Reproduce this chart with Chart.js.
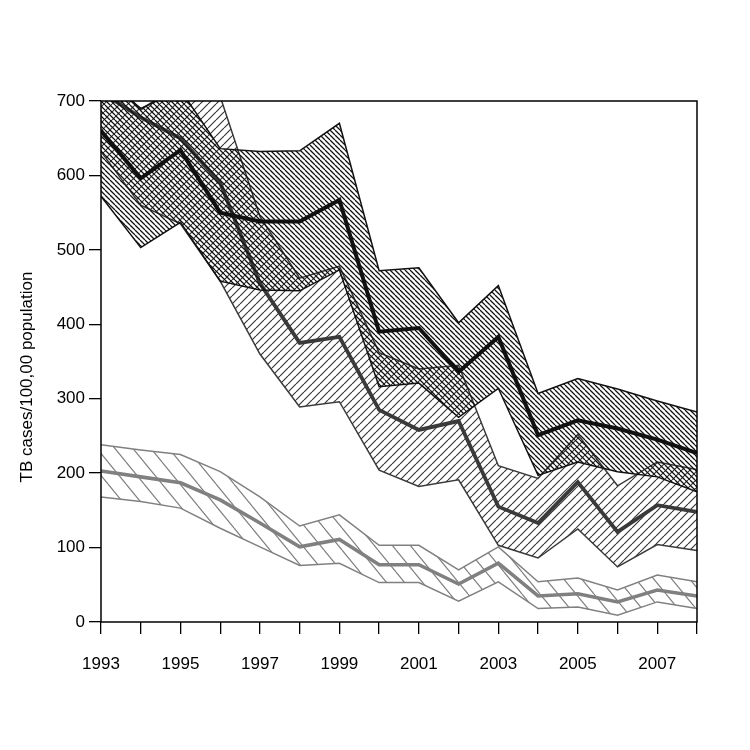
<!DOCTYPE html>
<html>
<head>
<meta charset="utf-8">
<script src="https://cdn.jsdelivr.net/npm/chart.js@4/dist/chart.umd.min.js"></script>
<style>
html,body{margin:0;padding:0;background:#fff;}
canvas{display:block;}
</style>
</head>
<body>
<canvas id="c" width="750" height="750"></canvas>
<script>
const years = [1993,1994,1995,1996,1997,1998,1999,2000,2001,2002,2003,2004,2005,2006,2007,2008];
const yTicks = [0,100,200,300,400,500,600,700];
const yTitle = 'TB cases/100,00 population';

const blackUpper = [735,690,715,636,632,633,670,472,476,402,452,307,327,313,297,282];
const blackMid   = [660,596,634,550,538,538,567,390,395,336,383,251,271,260,245,227];
const blackLower = [572,503,537,458,446,445,473,316,321,275,314,197,215,202,195,175];

const grayUpper  = [745,688,725,706,545,462,478,362,340,345,210,193,252,183,215,205];
const grayMid    = [712,678,650,590,455,375,383,285,258,270,155,133,188,121,157,148];
const grayLower  = [632,560,535,458,360,289,296,204,182,191,103,86,125,74,104,96];

const lightUpper = [238,231,225,202,168,129,144,103,103,70,101,54,59,43,63,54];
const lightMid   = [203,195,187,164,133,101,111,77,77,51,79,35,38,27,43,35];
const lightLower = [168,162,153,126,101,76,79,53,53,28,54,18,20,9,27,18];

function hatch(color, w, h, lw, dir) {
  const c = document.createElement('canvas');
  c.width = w; c.height = h;
  const g = c.getContext('2d');
  g.strokeStyle = color; g.lineWidth = lw;
  g.beginPath();
  for (let k = -1; k <= 1; k++) {
    if (dir > 0) { g.moveTo(k*w, h); g.lineTo(k*w + w, 0); }
    else { g.moveTo(k*w, 0); g.lineTo(k*w + w, h); }
  }
  g.stroke();
  return g.createPattern(c, 'repeat');
}

const BLACK = '#111111', DARK = '#3a3a3a', LIGHT = '#808080';
const pBlack = hatch(BLACK, 5, 5, 1.25, -1);
const pDark = hatch(DARK, 8, 8, 1.2, 1);
const pLight = hatch(LIGHT, 18, 22, 1.2, -1);

const pts = arr => years.map((x, i) => ({x: x, y: arr[i]}));
function band(arr, color, fillTarget, pattern) {
  return {data: pts(arr), borderColor: color, borderWidth: 1.5, pointRadius: 0,
          tension: 0, fill: fillTarget === null ? false : fillTarget,
          backgroundColor: pattern || 'transparent'};
}
function mid(arr, color, w) {
  return {data: pts(arr), borderColor: color, borderWidth: w, pointRadius: 0,
          tension: 0, fill: false};
}

const fontFamily = '"Liberation Sans", Arial, sans-serif';
const font = {family: fontFamily, size: 17};

const frame = {
  id: 'frame',
  afterDraw(chart) {
    const a = chart.chartArea, ctx = chart.ctx;
    ctx.save();
    ctx.strokeStyle = '#000'; ctx.lineWidth = 1.5;
    ctx.strokeRect(a.left, a.top, a.right - a.left, a.bottom - a.top);
    // y axis title
    ctx.translate(27, 377);
    ctx.rotate(-Math.PI / 2);
    ctx.fillStyle = '#000';
    ctx.font = '17px ' + fontFamily;
    ctx.textAlign = 'center';
    ctx.textBaseline = 'middle';
    ctx.fillText(yTitle, 0, 0);
    ctx.restore();
  }
};

new Chart(document.getElementById('c'), {
  type: 'line',
  data: {
    datasets: [
      band(blackUpper, BLACK, 2, pBlack),
      mid(blackMid, BLACK, 4),
      band(blackLower, BLACK, null),
      band(grayUpper, DARK, 5, pDark),
      mid(grayMid, DARK, 3.8),
      band(grayLower, DARK, null),
      band(lightUpper, LIGHT, 8, pLight),
      mid(lightMid, LIGHT, 3.6),
      band(lightLower, LIGHT, null)
    ]
  },
  options: {
    responsive: false,
    animation: false,
    devicePixelRatio: 1,
    layout: {padding: {left: 15, top: 101, right: 53, bottom: 0}},
    plugins: {legend: {display: false}, tooltip: {enabled: false}},
    scales: {
      x: {
        type: 'linear', min: 1993, max: 2008,
        border: {display: false},
        grid: {drawOnChartArea: false, drawTicks: true, tickLength: 12, color: '#000', lineWidth: 1.3},
        ticks: {stepSize: 1, autoSkip: false, maxRotation: 0, color: '#000', font: font, padding: 20,
                callback: v => (v % 2 === 1 && v < 2008) ? String(v) : ''},
        afterFit: s => { s.height = 128; }
      },
      y: {
        type: 'linear', min: 0, max: 700,
        border: {display: false},
        grid: {drawOnChartArea: false, drawTicks: true, tickLength: 12, color: '#000', lineWidth: 1.3},
        afterBuildTicks: s => { s.ticks = yTicks.map(v => ({value: v})); },
        ticks: {color: '#000', font: font, padding: 4},
        afterFit: s => { s.width = 86; }
      }
    }
  },
  plugins: [frame]
});
</script>
</body>
</html>
